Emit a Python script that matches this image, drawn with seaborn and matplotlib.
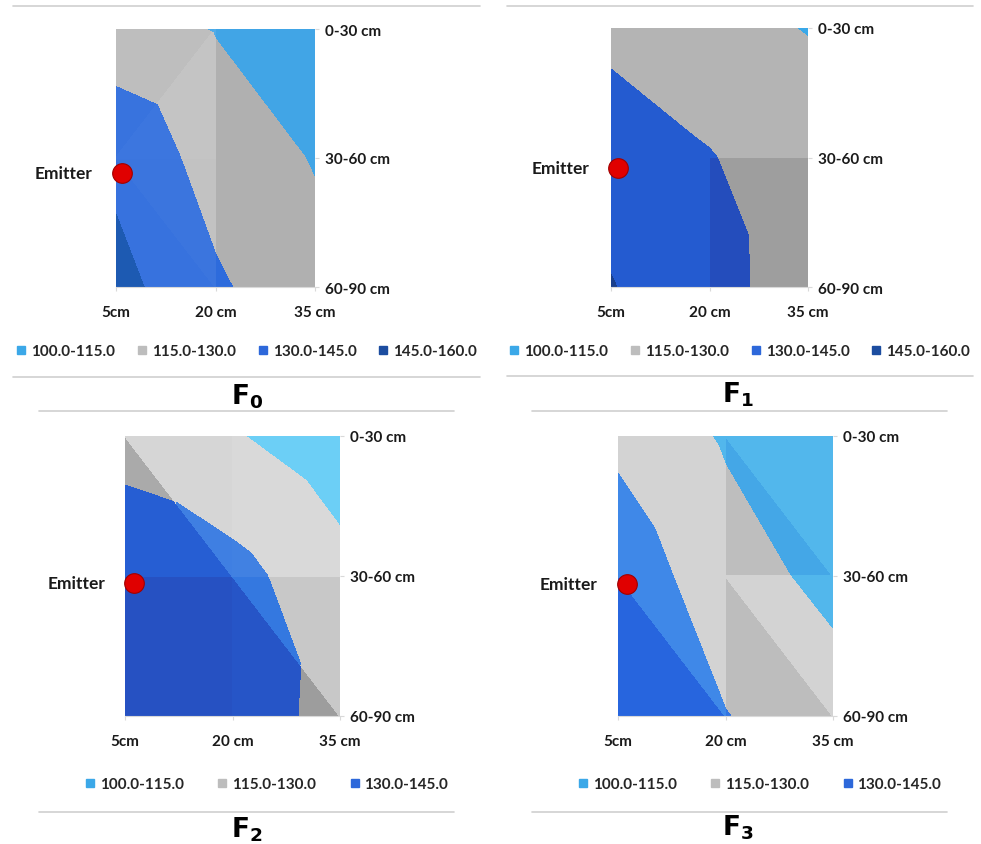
import colorsys
import numpy as np
import matplotlib
matplotlib.use("Agg")
import matplotlib.pyplot as plt
import matplotlib.colors as mcolors
import matplotlib.tri as mtri
from matplotlib.lines import Line2D
import seaborn as sns

# ---- data ----
distances = [5, 20, 35]            # cm from emitter
dist_labels = ["5cm", "20 cm", "35 cm"]
depths = [15, 45, 75]              # layer centres, cm
depth_labels = ["0-30 cm", "30-60 cm", "60-90 cm"]
band_edges = [100, 115, 130, 145, 160]
band_labels = ["100.0-115.0", "115.0-130.0", "130.0-145.0", "145.0-160.0"]
panel_titles = [r"$\mathbf{F_0}$", r"$\mathbf{F_1}$", r"$\mathbf{F_2}$", r"$\mathbf{F_3}$"]
legend_bands = [4, 4, 3, 3]

# rows: 0-30, 30-60, 60-90 cm ; cols: 5, 20, 35 cm
f0_values = [[121.0, 114.2, 105.0],
             [141.0, 124.0, 114.0],
             [150.0, 132.0, 120.0]]
f1_values = [[124.8, 116.4, 114.8],
             [141.0, 131.0, 117.5],
             [145.4, 138.1, 118.0]]
f2_values = [[125.6, 116.2, 105.7],
             [138.0, 134.8, 120.0],
             [140.0, 134.3, 127.2]]
f3_values = [[126.8, 113.2, 106.0],
             [138.6, 121.7, 110.5],
             [137.0, 130.4, 122.0]]
panel_values = [f0_values, f1_values, f2_values, f3_values]

emitter_x = [5.9, 6.1, 6.3, 6.2]
emitter_y = [48.5, 47.4, 46.5, 46.8]

# ---- style ----
# band colours per panel (cyan, grey, blue, dark blue)
band_colors = [
    ["#41A5E6", "#B0B0B0", "#2D6BDC", "#1B55A8"],
    ["#3AA8E8", "#B4B4B4", "#245BD0", "#1A3F8C"],
    ["#5ECAF5", "#C8C8C8", "#3478E0", "#1B3F9A"],
    ["#52B7EC", "#D3D3D3", "#3F88E8", "#1B3F9A"],
]
legend_colors = ["#3BA8E8", "#BDBDBD", "#2D68DA", "#1C4DA0"]
# diagonal used to split each cell (TL, TR, BL, BR cell)
cell_diag = [
    ["/", "\\", "\\", "\\"],
    ["\\", "\\", "\\", "/"],
    ["\\", "/", "\\", "\\"],
    ["/", "\\", "\\", "\\"],
]
# lightness offset per triangle (2 per cell), as seen on the grey band
tri_shade = [
    [0.055, 0.078, 0.0, 0.0, 0.07, 0.05, 0.0, 0.0],
    [0.0, 0.0, 0.0, 0.0, 0.0, 0.0, -0.086, -0.086],
    [0.055, -0.118, 0.067, 0.067, -0.19, -0.19, 0.0, -0.17],
    [0.0, 0.0, 0.0, -0.082, 0.0, -0.15, 0.0, -0.086],
]
legend_spacing = [1.45, 1.45, 2.2, 2.2]

W, H = 981, 845
axes_px = [(116, 315, 30, 288), (611, 808, 29, 288),
           (125, 340, 437, 717), (618, 833, 437, 717)]
lines_px = [(13, 480, 7, 378), (507, 973, 7, 377),
            (39, 454, 412, 813), (532, 947, 412, 813)]
title_px = [(247, 397), (738, 395), (247, 830), (738, 828)]
legend_px = [(247, 352), (740, 352), (267, 785), (760, 785)]

sns.set_theme(style="white")
plt.rcParams["font.family"] = ["Lato", "DejaVu Sans"]
plt.rcParams["mathtext.fontset"] = "dejavusans"


def shade(color, dl):
    r, g, b = mcolors.to_rgb(color)
    h, l, s = colorsys.rgb_to_hls(r, g, b)
    if s > 0.2:
        # coloured bands react less than the grey one
        dl = dl * 0.45
        if dl < 0:
            h = h - 0.23 * dl
            s = min(max(s * (1 + 1.0 * dl), 0.0), 1.0)
    l = min(max(l + dl, 0.0), 1.0)
    return colorsys.hls_to_rgb(h, l, s)


def cell_triangles(diag):
    tris = []
    for r in range(2):
        for c in range(2):
            a = r * 3 + c
            b, d = a + 1, a + 3
            e = d + 1
            if diag[r * 2 + c] == "\\":
                tris += [[a, b, e], [a, d, e]]
            else:
                tris += [[a, b, d], [b, e, d]]
    return np.array(tris)


fig = plt.figure(figsize=(W / 100, H / 100), dpi=100)
xs = np.tile(distances, 3).astype(float)
ys = np.repeat(depths, 3).astype(float)

for i in range(4):
    l, r, t, b = axes_px[i]
    ax = fig.add_axes([l / W, 1 - b / H, (r - l) / W, (b - t) / H])
    z = np.array(panel_values[i]).ravel()
    tris = cell_triangles(cell_diag[i])
    shades = np.array(tri_shade[i])
    for dl in np.unique(shades):
        tri = mtri.Triangulation(xs, ys, tris, mask=shades != dl)
        cols = [shade(c, dl) for c in band_colors[i]]
        cs = ax.tricontourf(tri, z, levels=band_edges, colors=cols)
        cs.set_edgecolor("face")
        cs.set_linewidth(0.6)

    ax.set_xlim(distances[0], distances[-1])
    ax.set_ylim(depths[-1], depths[0])
    ax.set_xticks(distances)
    ax.set_xticklabels(dist_labels)
    ax.set_yticks(depths)
    ax.set_yticklabels(depth_labels)
    ax.yaxis.tick_right()
    ax.tick_params(axis="x", length=3, width=0.8, color="#D9D9D9", pad=10,
                   labelsize=11, bottom=True)
    ax.tick_params(axis="y", length=3, width=0.8, color="#D9D9D9", pad=4,
                   labelsize=11, right=True, left=False)
    for lab in ax.get_xticklabels() + ax.get_yticklabels():
        lab.set_fontweight("bold")
        lab.set_color("#1A1A1A")
    for side in ["top", "left", "right"]:
        ax.spines[side].set_visible(False)
    ax.spines["bottom"].set_color("#D9D9D9")
    ax.spines["bottom"].set_linewidth(0.8)

    sns.scatterplot(x=[emitter_x[i]], y=[emitter_y[i]], ax=ax, s=200,
                    color="#E00000", edgecolor="#A00000", linewidth=0.8,
                    zorder=5, clip_on=False, legend=False)
    ax.annotate("Emitter", xy=(emitter_x[i], emitter_y[i]), xytext=(-21, 0),
                textcoords="offset points", ha="right", va="center",
                fontsize=12.5, fontweight="bold", color="#1A1A1A",
                annotation_clip=False)

    handles = [Line2D([], [], marker="s", ls="", markersize=6,
                      color=legend_colors[k]) for k in range(legend_bands[i])]
    lx, ly = legend_px[i]
    fig.legend(handles, band_labels[:legend_bands[i]], loc="center",
               bbox_to_anchor=(lx / W, 1 - ly / H), ncol=legend_bands[i],
               frameon=False, handlelength=0.6,
               handletextpad=0.35, columnspacing=legend_spacing[i],
               borderpad=0, prop={"weight": "bold", "size": 11})

    x0, x1, yt, yb = lines_px[i]
    for yy in (yt, yb):
        fig.add_artist(Line2D([x0 / W, x1 / W], [1 - yy / H, 1 - yy / H],
                              transform=fig.transFigure, color="#D0D0D0",
                              lw=1.2))
    tx, ty = title_px[i]
    fig.text(tx / W, 1 - ty / H, panel_titles[i], ha="center", va="center",
             fontsize=19, color="#000000")

fig.savefig("out.png", dpi=100)
